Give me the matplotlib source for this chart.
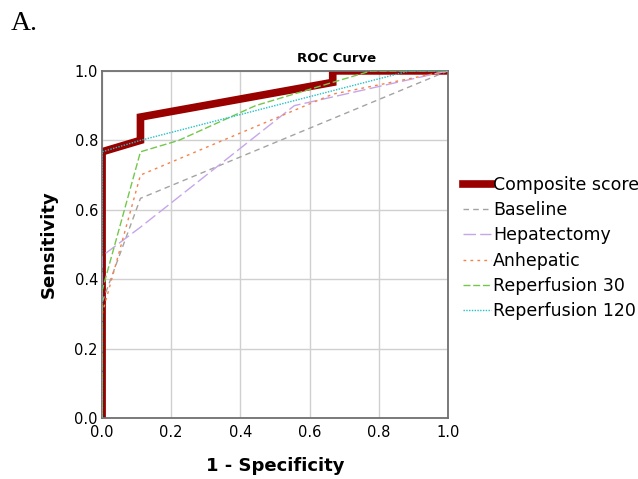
import matplotlib
matplotlib.use("Agg")
import matplotlib.pyplot as plt

# ROC curves (x = 1 - specificity, y = sensitivity)
composite_x = [0.0, 0.0, 0.111, 0.111, 0.667, 0.667, 1.0]
composite_y = [0.0, 0.767, 0.8, 0.867, 0.967, 1.0, 1.0]

baseline_x = [0.0, 0.0, 0.111, 1.0]
baseline_y = [0.0, 0.333, 0.633, 1.0]

hepatectomy_x = [0.0, 0.0, 0.111, 0.556, 1.0]
hepatectomy_y = [0.0, 0.467, 0.55, 0.9, 1.0]

anhepatic_x = [0.0, 0.0, 0.111, 0.667, 1.0]
anhepatic_y = [0.0, 0.3, 0.7, 0.933, 1.0]

rep30_x = [0.0, 0.0, 0.111, 0.222, 0.444, 0.667, 0.778, 1.0]
rep30_y = [0.0, 0.367, 0.767, 0.8, 0.9, 0.967, 1.0, 1.0]

rep120_x = [0.0, 0.0, 0.111, 0.889, 1.0]
rep120_y = [0.0, 0.767, 0.8, 1.0, 1.0]

ticks = [0.0, 0.2, 0.4, 0.6, 0.8, 1.0]

fig = plt.figure(figsize=(6.38, 4.79), dpi=100)
ax = fig.add_axes([0.16, 0.127, 0.542, 0.725])

ax.plot(composite_x, composite_y, color="#990000", lw=5.5,
        solid_joinstyle="miter", label="Composite score", zorder=2)
ax.plot(baseline_x, baseline_y, color="#a3a3a3", lw=1.0,
        dashes=(4, 3), label="Baseline", zorder=3)
ax.plot(hepatectomy_x, hepatectomy_y, color="#c6a6ea", lw=1.0,
        dashes=(9, 3), label="Hepatectomy", zorder=3)
ax.plot(anhepatic_x, anhepatic_y, color="#f4834a", lw=1.0,
        dashes=(2, 3), label="Anhepatic", zorder=3)
ax.plot(rep30_x, rep30_y, color="#72c84a", lw=1.0,
        dashes=(5, 2), label="Reperfusion 30", zorder=3)
ax.plot(rep120_x, rep120_y, color="#1fc2c8", lw=1.0,
        dashes=(1, 1), label="Reperfusion 120", zorder=3)

ax.set_xlim(0, 1)
ax.set_ylim(0, 1)
ax.set_xticks(ticks)
ax.set_yticks(ticks)
ax.set_xticklabels([f"{t:.1f}" for t in ticks], fontsize=10.5)
ax.set_yticklabels([f"{t:.1f}" for t in ticks], fontsize=10.5)
ax.tick_params(axis="x", length=0, pad=5)
ax.tick_params(axis="y", length=0, pad=3)
ax.grid(color="#d0d0d0", lw=1.0)
ax.set_axisbelow(True)
for s in ax.spines.values():
    s.set_color("#707070")
    s.set_linewidth(1.3)

ax.set_xlabel("1 - Specificity", fontsize=13, fontweight="bold", labelpad=12)
ax.set_ylabel("Sensitivity", fontsize=13, fontweight="bold", labelpad=12)

fig.text(0.528, 0.877, "ROC Curve", ha="center", va="center",
         fontsize=9.5, fontweight="bold")
fig.text(0.017, 0.95, "A.", ha="left", va="center", fontsize=20,
         family="Liberation Serif")

leg = ax.legend(loc="center left", bbox_to_anchor=(1.045, 0.49),
                frameon=False, fontsize=12.5, handlelength=1.6,
                handletextpad=0.1, labelspacing=0.42, borderaxespad=0,
                borderpad=0)

fig.savefig("out.png", dpi=100)
